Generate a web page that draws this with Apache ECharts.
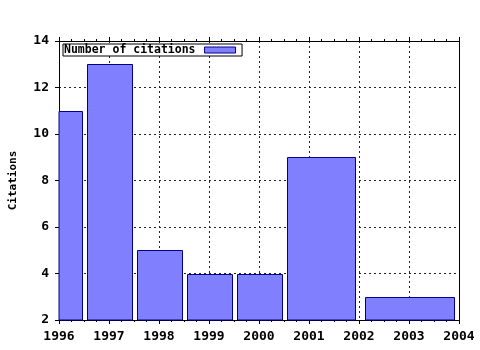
<!DOCTYPE html>
<html>
<head>
<meta charset="utf-8">
<script src="https://cdn.jsdelivr.net/npm/echarts@6/dist/echarts.min.js"></script>
<style>html,body{margin:0;padding:0;background:#fff}#c{width:480px;height:350px}</style>
</head>
<body>
<div id="c"></div>
<script>
// Data
const seriesName = 'Number of citations';
const barStart = [1995.55, 1996.56, 1997.55, 1998.55, 1999.55, 2000.56, 2002.11];
const barEnd   = [1996.46, 1997.45, 1998.45, 1999.45, 2000.45, 2001.91, 2003.90];
const citations = [11, 13, 5, 4, 4, 9, 3];
const xMin = 1996, xMax = 2004, xStep = 1;
const yMin = 2, yMax = 14, yStep = 2;
const yTitle = 'Citations';

const FONT = '"DejaVu Sans Mono", "Liberation Mono", monospace';
const FILL = '#8080ff', EDGE = '#00008b';

const data = citations.map((v, i) => [barStart[i], barEnd[i], v]);

const chart = echarts.init(document.getElementById('c'), null, {renderer: 'canvas'});
const dotted = {show: true, lineStyle: {color: '#222', type: [2, 3], width: 1}};
const axisLine = {show: true, onZero: false, lineStyle: {color: '#000', width: 1}};
const tickStyle = {color: '#000', width: 1};

chart.setOption({
  animation: false,
  backgroundColor: '#fff',
  grid: {left: 57, right: 21, top: 41, bottom: 30, show: false},
  legend: {
    left: 63, top: 44,
    align: 'right',
    orient: 'horizontal',
    padding: [0, 6, 0, 1],
    borderColor: '#000', borderWidth: 1,
    backgroundColor: '#fff',
    itemWidth: 31, itemHeight: 6, itemGap: 0,
    icon: 'rect',
    data: [{name: seriesName, itemStyle: {color: FILL, borderColor: EDGE, borderWidth: 1}}],
    textStyle: {fontFamily: FONT, fontWeight: 'bold', fontSize: 11.5, color: '#000', padding: [1, 4, 0, 0]}
  },
  xAxis: [
    {
      type: 'value', min: xMin, max: xMax, interval: xStep, position: 'bottom',
      axisLine: axisLine,
      axisTick: {show: true, inside: false, length: 4, lineStyle: tickStyle},
      minorTick: {show: true, splitNumber: 4, length: 2, lineStyle: tickStyle},
      axisLabel: {fontFamily: FONT, fontWeight: 'bold', fontSize: 13, color: '#000', margin: 10,
        formatter: v => String(v)},
      splitLine: dotted
    },
    {
      type: 'value', min: xMin, max: xMax, interval: xStep, position: 'top',
      axisLine: axisLine,
      axisTick: {show: true, inside: false, length: 4, lineStyle: tickStyle},
      minorTick: {show: true, splitNumber: 4, length: 2, lineStyle: tickStyle},
      axisLabel: {show: false},
      splitLine: {show: false}
    }
  ],
  yAxis: [
    {
      type: 'value', min: yMin, max: yMax, interval: yStep, position: 'left',
      name: yTitle, nameLocation: 'middle', nameGap: 40, nameRotate: 90,
      nameTextStyle: {fontFamily: FONT, fontWeight: 'bold', fontSize: 11, color: '#000'},
      axisLine: axisLine,
      axisTick: {show: true, inside: false, length: 4, lineStyle: tickStyle},
      axisLabel: {fontFamily: FONT, fontWeight: 'bold', fontSize: 13, color: '#000', margin: 10},
      splitLine: dotted
    },
    {
      type: 'value', min: yMin, max: yMax, interval: yStep, position: 'right',
      axisLine: axisLine,
      axisTick: {show: false},
      axisLabel: {show: false},
      splitLine: {show: false}
    }
  ],
  series: [{
    name: seriesName,
    type: 'custom',
    xAxisIndex: 0, yAxisIndex: 0,
    itemStyle: {color: FILL, borderColor: EDGE, borderWidth: 1},
    encode: {x: [0, 1], y: 2},
    data: data,
    z: 3,
    renderItem: function (params, api) {
      const p0 = api.coord([api.value(0), api.value(2)]);
      const p1 = api.coord([api.value(1), yMin]);
      const cs = params.coordSys;
      const shape = echarts.graphic.clipRectByRect(
        {x: Math.round(p0[0]) + 0.5, y: Math.round(p0[1]) + 0.5,
         width: Math.round(p1[0]) - Math.round(p0[0]), height: Math.round(p1[1]) - Math.round(p0[1])},
        {x: cs.x, y: cs.y, width: cs.width, height: cs.height});
      if (!shape) return;
      return {type: 'rect', shape: shape,
        style: {fill: FILL, stroke: EDGE, lineWidth: 1}};
    }
  }]
});
</script>
</body>
</html>
